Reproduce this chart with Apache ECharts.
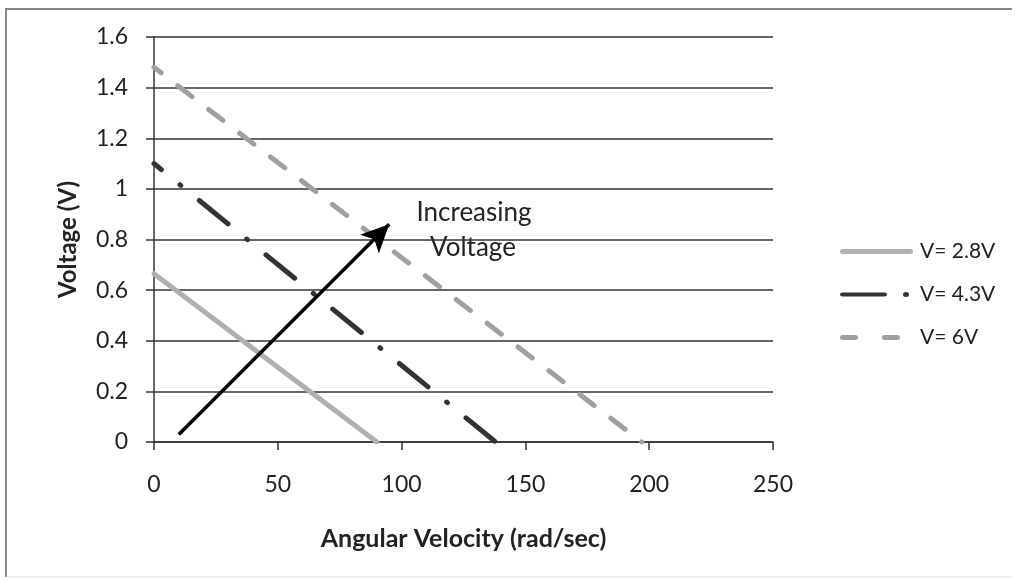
<!DOCTYPE html>
<html><head><meta charset="utf-8">
<script src="https://cdn.jsdelivr.net/npm/echarts@6/dist/echarts.min.js"></script>
<style>html,body{margin:0;padding:0;background:#fff}#c{width:1015px;height:582px}</style>
</head><body><div id="c"></div>
<script>
const seriesNames = ['V= 2.8V', 'V= 4.3V', 'V= 6V'];
const xVals28 = [0, 90];
const yVals28 = [0.665, 0];
const xVals43 = [0, 138];
const yVals43 = [1.1, 0];
const xVals6 = [0, 197];
const yVals6 = [1.48, 0];
const arrowStart = [10, 0.03];
const arrowEnd = [95, 0.86];
const xTicks = [0, 50, 100, 150, 200, 250];
const yTicks = [0, 0.2, 0.4, 0.6, 0.8, 1, 1.2, 1.4, 1.6];
const noteLines = ['Increasing', 'Voltage'];

const FONT = 'Lato, "Open Sans", sans-serif';
const zip = (xs, ys) => xs.map((x, i) => [x, ys[i]]);
const END = ' M72.95,0 H73 V0.05 H72.95 Z M0,4.95 H0.05 V5 H0 Z';
const legendIcons = [
  'path://M2.5,0 H70.5 A2.5,2.5 0 0 1 70.5,5 H2.5 A2.5,2.5 0 0 1 2.5,0 Z' + END,
  'path://M2.5,0 H44.5 A2.5,2.5 0 0 1 44.5,5 H2.5 A2.5,2.5 0 0 1 2.5,0 Z M63,2.5 A3,3 0 1 0 69,2.5 A3,3 0 1 0 63,2.5 Z' + END,
  'path://M2.5,0 H15.5 A2.5,2.5 0 0 1 15.5,5 H2.5 A2.5,2.5 0 0 1 2.5,0 Z M44.5,0 H57.5 A2.5,2.5 0 0 1 57.5,5 H44.5 A2.5,2.5 0 0 1 44.5,0 Z' + END
];
const chart = echarts.init(document.getElementById('c'));
chart.setOption({
  animation: false,
  backgroundColor: '#fff',
  textStyle: { fontFamily: FONT },
  graphic: [
    { type: 'polyline', shape: { points: [[6, 577], [6, 9], [1012, 9]] }, style: { stroke: '#888', lineWidth: 2, fill: null } },
    { type: 'line', shape: { x1: 6, y1: 577, x2: 1012, y2: 577 }, style: { stroke: '#ddd', lineWidth: 1 } },
    { type: 'text', x: 474, y: 213, style: { text: noteLines[0], fontSize: 26, fontFamily: FONT, fill: '#222', align: 'center', verticalAlign: 'middle' } },
    { type: 'text', x: 473, y: 248, style: { text: noteLines[1], fontSize: 26, fontFamily: FONT, fill: '#222', align: 'center', verticalAlign: 'middle' } }
  ],
  grid: { left: 154, right: 242, top: 37, bottom: 140 },
  legend: {
    orient: 'vertical', left: 835, top: 236, itemGap: 22, itemWidth: 73, itemHeight: 5,
    symbolKeepAspect: false,
    textStyle: { fontSize: 21, color: '#222', fontFamily: FONT, padding: [0, 0, 0, 2] },
    data: seriesNames.map((n, i) => ({ name: n, icon: legendIcons[i] }))
  },
  xAxis: {
    type: 'value', min: 0, max: 250, interval: 50,
    name: 'Angular Velocity (rad/sec)', nameLocation: 'middle', nameGap: 84,
    nameTextStyle: { fontSize: 25, fontWeight: 'bold', color: '#222', fontFamily: FONT },
    axisLine: { show: true, lineStyle: { color: '#333', width: 1.5 } },
    axisTick: { show: true, inside: false, length: 8, lineStyle: { color: '#333', width: 1.5 } },
    axisLabel: { fontSize: 23, color: '#222', margin: 31, fontFamily: FONT },
    splitLine: { show: false }
  },
  yAxis: {
    type: 'value', min: 0, max: 1.6, interval: 0.2,
    name: 'Voltage (V)', nameLocation: 'middle', nameGap: 74, nameRotate: 90,
    nameTextStyle: { fontSize: 24, fontWeight: 'bold', color: '#222', fontFamily: FONT },
    axisLine: { show: true, lineStyle: { color: '#333', width: 1.5 } },
    axisTick: { show: true, inside: false, length: 8, lineStyle: { color: '#333', width: 1.5 } },
    axisLabel: { fontSize: 23, color: '#222', margin: 26, fontFamily: FONT, formatter: v => String(+v.toFixed(1)) },
    splitLine: { show: true, lineStyle: { color: '#333', width: 1.5 } }
  },
  series: [
    {
      name: seriesNames[0], type: 'line', data: zip(xVals28, yVals28), showSymbol: false, symbol: 'none',
      itemStyle: { color: '#b0b0b0' },
      lineStyle: { color: '#b0b0b0', width: 5, type: 'solid', cap: 'round' }
    },
    {
      name: seriesNames[1], type: 'line', data: zip(xVals43, yVals43), showSymbol: false, symbol: 'none',
      itemStyle: { color: '#333' },
      lineStyle: { color: '#333', width: 5, type: [37, 24, 1, 24], dashOffset: 27.5, cap: 'round' }
    },
    {
      name: seriesNames[2], type: 'line', data: zip(xVals6, yVals6), showSymbol: false, symbol: 'none',
      itemStyle: { color: '#a0a0a0' },
      lineStyle: { color: '#a0a0a0', width: 5, type: [18, 21], dashOffset: 9, cap: 'round' },
      markLine: {
        silent: true, symbol: ['none', 'arrow'], symbolSize: [20, 28],
        label: { show: false },
        lineStyle: { color: '#000', width: 3.5, type: 'solid' },
        data: [[{ coord: arrowStart }, { coord: arrowEnd }]]
      }
    }
  ]
});
</script></body></html>
